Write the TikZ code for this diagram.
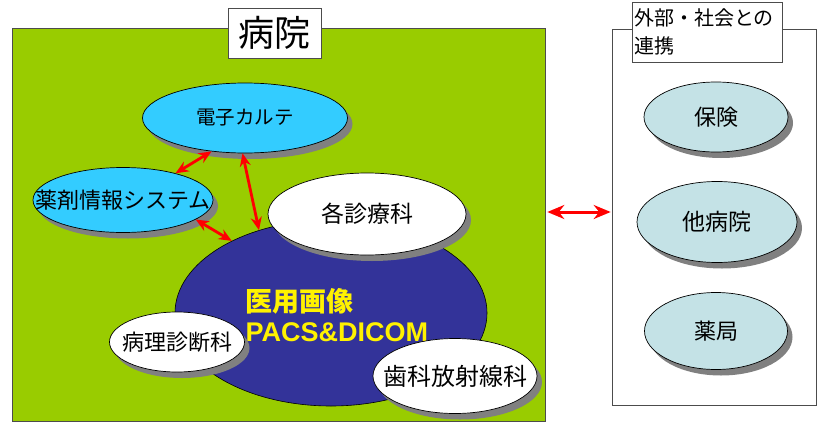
\documentclass[tikz,border=0pt]{standalone}
\usepackage{fontspec}
\setmainfont{Noto Sans CJK JP}
\newfontfamily\jp{Noto Sans CJK JP}
\newfontfamily\lib{Liberation Sans}
\usetikzlibrary{shapes.geometric,shadows,arrows.meta}
\definecolor{hgreen}{RGB}{153,204,0}
\definecolor{cyanfill}{RGB}{51,204,255}
\definecolor{navy}{RGB}{51,51,153}
\definecolor{paleblue}{RGB}{196,226,230}
\definecolor{shadowgray}{RGB}{128,128,128}
\newcommand{\zw}[1]{\makebox[0pt]{#1}}
\tikzset{
  oval/.style={ellipse, draw=black, line width=0.7pt, inner sep=0pt,
    drop shadow={shadow xshift=5pt, shadow yshift=-6pt, fill=shadowgray, opacity=1}},
  cyanoval/.style={oval, fill=cyanfill},
  whiteoval/.style={oval, fill=white},
  paleoval/.style={oval, fill=paleblue},
  link/.style={{Stealth[length=13pt,width=11pt]}-{Stealth[length=13pt,width=11pt]}, draw=red, line width=2.8pt},
  biglink/.style={{Stealth[length=17pt,width=14pt]}-{Stealth[length=17pt,width=14pt]}, draw=red, line width=3pt},
  frame/.style={draw=black!70, line width=0.6pt, inner sep=0pt},
}
\begin{document}
\begin{tikzpicture}[x=1pt,y=-1pt]
\useasboundingbox (0,0) rectangle (824,423);
% hospital area
\node[frame, fill=hgreen, minimum width=533pt, minimum height=393pt] (hosp) at (278.5,224.5) {};
\node[frame, fill=white, minimum width=93pt, minimum height=50pt, font=\fontsize{36}{40}\selectfont] (title) at (274.5,33) {病院};
% external area
\node[frame, fill=white, minimum width=204pt, minimum height=376pt] (ext) at (714,217) {};
\node[frame, fill=white, minimum width=150pt, minimum height=60pt, text width=146pt, align=left, inner xsep=2pt, font=\fontsize{20}{28}\selectfont] (extlabel) at (707,32) {外部・社会との\\連携};
% big PACS ellipse
\node[ellipse, fill=navy, draw=black, line width=0.6pt, minimum width=312pt, minimum height=186pt, inner sep=0pt] (pacs) at (331,313) {};
\node[anchor=west, align=left, text=yellow, font=\bfseries\fontsize{27}{30}\selectfont] (pacstext) at (242,315) {{\jp\bfseries 医用画像}\\{\lib\bfseries PACS\&DICOM}};
% hospital ovals
\node[cyanoval, minimum width=205pt, minimum height=70pt, font=\fontsize{19.5}{22}\selectfont] (karte) at (245,118) {\zw{電子カルテ}};
\node[cyanoval, minimum width=180pt, minimum height=65pt, font=\fontsize{22}{24}\selectfont] (yaku) at (123,200) {\zw{薬剤情報システム}};
\node[whiteoval, minimum width=198pt, minimum height=82pt, font=\fontsize{23}{26}\selectfont] (kaku) at (367,214) {\zw{各診療科}};
\node[whiteoval, minimum width=135pt, minimum height=60pt, font=\fontsize{22}{24}\selectfont] (byori) at (177,342) {\zw{病理診断科}};
\node[whiteoval, minimum width=164pt, minimum height=75pt, font=\fontsize{24}{26}\selectfont] (shika) at (455,376) {\zw{歯科放射線科}};
% external ovals
\node[paleoval, minimum width=144pt, minimum height=70pt, font=\fontsize{22}{24}\selectfont] (hoken) at (716,117) {\zw{保険}};
\node[paleoval, minimum width=160pt, minimum height=81pt, font=\fontsize{23}{26}\selectfont] (tabyoin) at (717,222) {\zw{他病院}};
\node[paleoval, minimum width=143pt, minimum height=77pt, font=\fontsize{22}{24}\selectfont] (yakkyoku) at (716,331) {\zw{薬局}};
% connectors
\draw[link] (karte.225) -- (yaku.27);
\draw[link] (karte.266) -- (pacs.131);
\draw[link] (yaku.-15) -- (pacs.144);
\draw[biglink] ([xshift=2pt,yshift=12.5pt]hosp.east) -- ([xshift=-1pt,yshift=5pt]ext.west);
\end{tikzpicture}
\end{document}
